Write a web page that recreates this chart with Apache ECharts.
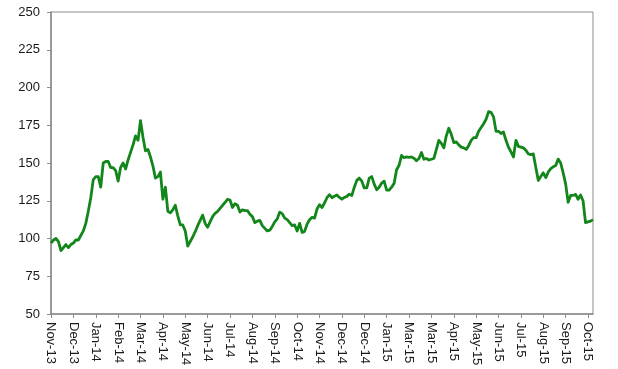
<!DOCTYPE html>
<html>
<head>
<meta charset="utf-8">
<script src="https://cdn.jsdelivr.net/npm/echarts@6/dist/echarts.min.js"></script>
<style>
html,body{margin:0;padding:0;background:#fff;}
#chart{width:618px;height:369px;}
</style>
</head>
<body>
<div id="chart"></div>
<script>
// Tick labels shown on the x axis (one every 9 data points)
var tickLabels = ['Nov-13','Dec-13','Jan-14','Feb-14','Mar-14','Apr-14','May-14','Jun-14','Jul-14','Aug-14','Sep-14','Oct-14','Nov-14','Dec-14','Dec-14','Jan-15','Mar-15','Mar-15','Apr-15','May-15','Jun-15','Jul-15','Aug-15','Sep-15','Oct-15'];
var pointsPerTick = 9;
// Series values
var values = [
97,99,100,98,92,94,96,94,96,
97,99,99,102,105,110,118,127,139,
141,141,134,150,151,151,147,147,145,
138,147,150,146,152,157,162,168,165,
178,167,158,159,154,148,140,141,144,
126,134,118,117,119,122,115,109,109,
105,95,98,101,104.5,108.5,112,115.5,110,
107.5,111,114.5,116.7,118,120,122,123.8,126,
125.5,120.5,123,122,117.5,119,118.5,118.5,116,
114.5,110.5,111.5,112,108.5,106.7,105,105.5,108,
111,113,117.5,116.5,113.5,112.5,110.5,108.5,109,
105,110,104,104.7,109.5,112.4,114,113.5,119.5,
122.4,120.5,123.5,127,129,127,128,128.8,127.2,
126,127.2,127.9,129.4,128.5,134,138.5,140,138,
133.5,133.5,140,141,136,132.3,134,136.7,138,
132,132,134,136.5,145.5,148.5,155,153.5,154,
153.7,154,153.2,151.5,153,157,152.5,153,152,
152.5,153,159,165,163,160,168,173,169,
163.5,164,162,160.5,160,159,161.5,165,166.8,
166.8,171,173.5,176,179,184,183.5,180.5,171,
171,169.5,170.5,165,160.5,157.3,154,165,161,
160.5,160,158.5,156,155.5,156,147,138.5,141,
143.5,140.3,144,146.3,147.5,148.3,152.6,150,143.5,
136,124,128.5,128.5,129.2,126,128.8,125,110.5,
111,111.5,112.5
];
var categories = values.map(function(v, i){ return String(i); });

var font = '"Liberation Sans", Arial, sans-serif';
var chart = echarts.init(document.getElementById('chart'), null, {renderer:'canvas'});
chart.setOption({
  animation: false,
  grid: {left: 51, right: 25, top: 12, bottom: 55, show: true, borderColor: '#8c8c8c', borderWidth: 1, backgroundColor: 'transparent'},
  xAxis: {
    type: 'category',
    data: categories,
    boundaryGap: false,
    axisLine: {lineStyle: {color: '#8c8c8c', width: 1.5}},
    axisTick: {show: true, interval: pointsPerTick - 1, length: 4, lineStyle: {color: '#8c8c8c'}},
    axisLabel: {
      interval: pointsPerTick - 1,
      rotate: -90,
      margin: 8,
      color: '#1a1a1a',
      fontSize: 13,
      fontFamily: font,
      formatter: function(v, idx){ return tickLabels[Math.round(idx / pointsPerTick)] || ''; }
    },
    splitLine: {show: false}
  },
  yAxis: {
    type: 'value',
    min: 50, max: 250, interval: 25,
    axisLine: {show: true, lineStyle: {color: '#8c8c8c', width: 1.5}},
    axisTick: {show: true, length: 4, lineStyle: {color: '#8c8c8c'}},
    axisLabel: {margin: 11, color: '#1a1a1a', fontSize: 13, fontFamily: font},
    splitLine: {show: false}
  },
  series: [{
    type: 'line',
    data: values,
    showSymbol: false,
    symbol: 'none',
    lineStyle: {color: '#12861a', width: 2.8, join: 'round'},
    itemStyle: {color: '#12861a'}
  }]
});
</script>
</body>
</html>
